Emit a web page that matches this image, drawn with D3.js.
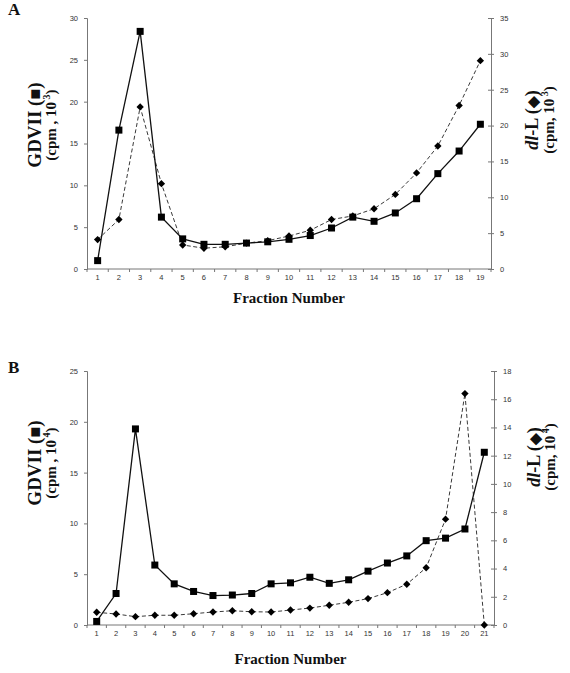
<!DOCTYPE html>
<html>
<head>
<meta charset="utf-8">
<script src="https://cdn.jsdelivr.net/npm/d3@7"></script>
<style>
  html, body { margin: 0; padding: 0; background: #fff; }
  svg { display: block; }
  .tick text { font-family: "Liberation Sans", Arial, sans-serif; font-size: 7.5px; fill: #333; }
  .domain, .tick line { stroke: #777; }
  .lbl { font-family: "Liberation Serif", "Times New Roman", serif; font-weight: bold; fill: #111; }
</style>
</head>
<body>
<script>
// ---- Data ----
const fractionsA = d3.range(1, 20).map(String);
const gdviiA = [1.0, 16.6, 28.4, 6.2, 3.6, 2.95, 2.95, 3.1, 3.25, 3.55, 4.0, 4.9, 6.2, 5.7, 6.7, 8.4, 11.4, 14.1, 17.3];
const dlA    = [4.1, 6.9, 22.6, 11.9, 3.35, 2.9, 3.1, 3.6, 3.95, 4.6, 5.4, 6.9, 7.4, 8.4, 10.4, 13.4, 17.15, 22.8, 29.05];
const leftTicksA = [0, 5, 10, 15, 20, 25, 30];
const rightTicksA = [0, 5, 10, 15, 20, 25, 30, 35];

const fractionsB = d3.range(1, 22).map(String);
const gdviiB = [0.35, 3.1, 19.3, 5.9, 4.05, 3.3, 2.9, 2.95, 3.1, 4.05, 4.15, 4.7, 4.1, 4.45, 5.3, 6.1, 6.8, 8.3, 8.55, 9.45, 17.0];
const dlB    = [0.9, 0.78, 0.59, 0.69, 0.69, 0.8, 0.92, 1.01, 0.94, 0.92, 1.06, 1.2, 1.4, 1.61, 1.87, 2.29, 2.89, 4.06, 7.5, 16.4, 0];
const leftTicksB = [0, 5, 10, 15, 20, 25];
const rightTicksB = [0, 2, 4, 6, 8, 10, 12, 14, 16, 18];

const svg = d3.select("body").append("svg").attr("width", 570).attr("height", 673);

function panel(o) {
  const g = svg.append("g");
  const x = d3.scaleBand().domain(o.cats).range([o.x0, o.x1]);
  const yL = d3.scaleLinear().domain([0, o.leftMax]).range([o.yb, o.yt]);
  const yR = d3.scaleLinear().domain([0, o.rightMax]).range([o.yb, o.yt]);

  // x axis: ticks at band boundaries
  const xa = g.append("g").attr("transform", `translate(0,${o.yb})`);
  xa.append("line").attr("x1", o.x0).attr("x2", o.x1).attr("stroke", "#777");
  const bounds = o.cats.map(c => x(c)).concat([o.x1]);
  xa.selectAll("line.t").data(bounds).join("line").attr("class", "t")
    .attr("x1", d => d).attr("x2", d => d).attr("y1", 0).attr("y2", 3).attr("stroke", "#777");
  xa.selectAll("text").data(o.cats).join("text")
    .attr("x", d => x(d) + x.bandwidth() / 2).attr("y", 11)
    .attr("text-anchor", "middle")
    .style("font-family", "Liberation Sans, Arial, sans-serif").style("font-size", "7.5px").style("fill", "#333")
    .text(d => d);

  g.append("g").attr("transform", `translate(${o.x0},0)`)
    .call(d3.axisLeft(yL).tickValues(o.leftTicks).tickSize(3).tickPadding(6).tickFormat(d3.format("d")));
  g.append("g").attr("transform", `translate(${o.x1},0)`)
    .call(d3.axisRight(yR).tickValues(o.rightTicks).tickSizeInner(3).tickSizeOuter(0).tickPadding(6).tickFormat(d3.format("d")))
    .call(a => a.selectAll(".tick line").attr("x1", -3));
  g.selectAll(".domain").attr("stroke", "#777");

  const cx = (d, i) => x(o.cats[i]) + x.bandwidth() / 2;
  // dl-L dashed
  g.append("path").datum(o.dl)
    .attr("d", d3.line().x(cx).y(d => yR(d)))
    .attr("fill", "none").attr("stroke", "#222").attr("stroke-width", 0.9).attr("stroke-dasharray", "4,2.5");
  // GDVII solid
  g.append("path").datum(o.gd)
    .attr("d", d3.line().x(cx).y(d => yL(d)))
    .attr("fill", "none").attr("stroke", "#111").attr("stroke-width", 1.3);

  g.selectAll("rect.dm").data(o.dl).join("rect").attr("class", "dm")
    .attr("x", -2.6).attr("y", -2.6).attr("width", 5.2).attr("height", 5.2)
    .attr("transform", (d, i) => `translate(${cx(d, i)},${yR(d)}) rotate(45)`).attr("fill", "#000");
  g.selectAll("rect.sq").data(o.gd).join("rect").attr("class", "sq")
    .attr("x", (d, i) => cx(d, i) - 3.5).attr("y", d => yL(d) - 3.5)
    .attr("width", 7).attr("height", 7).attr("fill", "#000");

  // panel letter
  svg.append("text").attr("class", "lbl").attr("x", 8).attr("y", o.letterY)
    .style("font-size", "17px").text(o.letter);

  // x title
  svg.append("text").attr("class", "lbl").attr("x", (o.x0 + o.x1) / 2).attr("y", o.titleY)
    .attr("text-anchor", "middle").style("font-size", "15px").text("Fraction Number");

  // left label
  const cyL = o.labelLY;
  const l1 = svg.append("text").attr("class", "lbl").attr("text-anchor", "middle")
    .attr("transform", `translate(41,${cyL}) rotate(-90)`).style("font-size", "19px");
  l1.append("tspan").text("GDVII (");
  l1.append("tspan").style("font-size", "18px").text("\u25A0");
  l1.append("tspan").text(")");
  const l2 = svg.append("text").attr("class", "lbl").attr("text-anchor", "middle")
    .attr("transform", `translate(56,${cyL}) rotate(-90)`).style("font-size", "15px");
  l2.append("tspan").text("(cpm ,  10");
  l2.append("tspan").attr("dy", -6).style("font-size", "10px").text(" " + o.exp);
  l2.append("tspan").attr("dy", 6).text(")");

  // right label
  const cyR = o.labelRY;
  const r1 = svg.append("text").attr("class", "lbl").attr("text-anchor", "middle")
    .attr("transform", `translate(${o.rx1},${cyR}) rotate(-90)`).style("font-size", "18px");
  r1.append("tspan").style("font-style", "italic").text("dl");
  r1.append("tspan").text("-L (");
  r1.append("tspan").style("font-size", "15px").text("\u25C6");
  r1.append("tspan").text(")");
  const r2 = svg.append("text").attr("class", "lbl").attr("text-anchor", "middle")
    .attr("transform", `translate(${o.rx2},${cyR}) rotate(-90)`).style("font-size", "15px");
  r2.append("tspan").text("(cpm,  10");
  r2.append("tspan").attr("dy", -6).style("font-size", "10px").text(" " + o.exp);
  r2.append("tspan").attr("dy", 6).text(")");
}

panel({
  cats: fractionsA, gd: gdviiA, dl: dlA, leftTicks: leftTicksA, rightTicks: rightTicksA,
  leftMax: 30, rightMax: 35, x0: 87, x1: 491, yb: 269, yt: 18,
  letter: "A", letterY: 15, titleY: 303, labelLY: 125, labelRY: 120, rx1: 538, rx2: 554, exp: "3"
});
panel({
  cats: fractionsB, gd: gdviiB, dl: dlB, leftTicks: leftTicksB, rightTicks: rightTicksB,
  leftMax: 25, rightMax: 18, x0: 87, x1: 494, yb: 625, yt: 371,
  letter: "B", letterY: 373, titleY: 664, labelLY: 463, labelRY: 457, rx1: 540, rx2: 555, exp: "4"
});
</script>
</body>
</html>
